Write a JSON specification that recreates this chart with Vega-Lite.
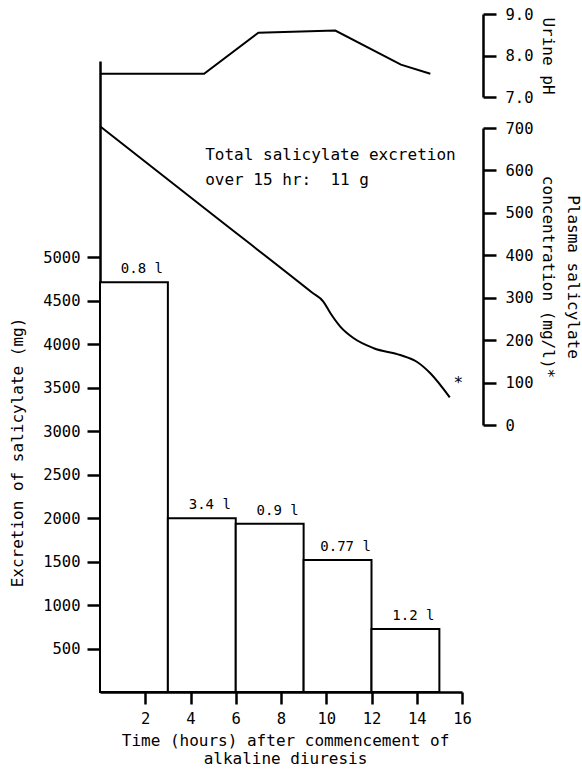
{
  "$schema": "https://vega.github.io/schema/vega-lite/v6.json",
  "width": 362,
  "height": 678,
  "autosize": {"type": "none"},
  "padding": {"left": 100, "top": 14, "right": 120, "bottom": 87},
  "background": "white",
  "config": {
    "font": "DejaVu Sans Mono",
    "view": {"stroke": null},
    "axis": {
      "domainColor": "black", "domainWidth": 2.5,
      "tickColor": "black", "tickWidth": 2.5, "tickSize": 13,
      "labelColor": "black", "titleColor": "black",
      "labelFont": "DejaVu Sans Mono", "titleFont": "DejaVu Sans Mono",
      "labelFontSize": 15.5, "titleFontSize": 16, "titleFontWeight": "normal",
      "grid": false, "labelFlush": false, "labelOverlap": false
    }
  },
  "datasets": {
    "bars": [
      {"start": 0, "end": 3, "mid": 1.5, "mg": 4715, "volume": "0.8 l"},
      {"start": 3, "end": 6, "mid": 4.5, "mg": 2000, "volume": "3.4 l"},
      {"start": 6, "end": 9, "mid": 7.5, "mg": 1935, "volume": "0.9 l"},
      {"start": 9, "end": 12, "mid": 10.5, "mg": 1520, "volume": "0.77 l"},
      {"start": 12, "end": 15, "mid": 13.5, "mg": 725, "volume": "1.2 l"}
    ],
    "plasma": [
      {"hour": 0, "conc": 704},
      {"hour": 5.0, "conc": 495},
      {"hour": 9.4, "conc": 311},
      {"hour": 9.87, "conc": 291},
      {"hour": 10.18, "conc": 264},
      {"hour": 10.62, "conc": 232},
      {"hour": 11.2, "conc": 205},
      {"hour": 12.1, "conc": 181},
      {"hour": 13.27, "conc": 165},
      {"hour": 14.0, "conc": 149},
      {"hour": 14.6, "conc": 122},
      {"hour": 15.46, "conc": 65}
    ],
    "ph": [
      {"hour": 0, "ph": 7.56},
      {"hour": 4.6, "ph": 7.56},
      {"hour": 7.0, "ph": 8.55},
      {"hour": 10.4, "ph": 8.6},
      {"hour": 13.3, "ph": 7.78},
      {"hour": 14.6, "ph": 7.56}
    ]
  },
  "layer": [
    {
      "data": {"name": "bars"},
      "layer": [
        {
          "mark": {"type": "bar", "fill": "white", "stroke": "black", "strokeWidth": 2},
          "encoding": {
            "x": {
              "field": "start", "type": "quantitative",
              "scale": {"domain": [0, 16], "nice": false, "zero": false},
              "axis": {
                "values": [2, 4, 6, 8, 10, 12, 14, 16],
                "tickSize": 12, "labelPadding": 7,
                "title": ["Time (hours) after commencement of", "alkaline diuresis"],
                "titleX": 185, "titleY": 48, "titleBaseline": "middle", "titleLineHeight": 18.5,
                "titleAlign": "center"
              }
            },
            "x2": {"field": "end"},
            "y": {
              "field": "mg", "type": "quantitative",
              "scale": {"domain": [0, 7260], "range": [678, 47], "nice": false},
              "axis": {
                "orient": "left",
                "values": [500, 1000, 1500, 2000, 2500, 3000, 3500, 4000, 4500, 5000],
                "format": "d",
                "labelPadding": 7,
                "title": "Excretion of salicylate (mg)",
                "titleX": -83, "titleY": 438, "titleAngle": -90,
                "titleBaseline": "middle", "titleAlign": "center"
              }
            },
            "y2": {"datum": 0}
          }
        },
        {
          "mark": {"type": "text", "baseline": "bottom", "dy": -6, "dx": 8, "fontSize": 14, "color": "black"},
          "encoding": {
            "x": {"field": "mid", "type": "quantitative", "scale": {"domain": [0, 16], "nice": false, "zero": false}},
            "y": {"field": "mg", "type": "quantitative"},
            "text": {"field": "volume"}
          }
        }
      ]
    },
    {
      "data": {"name": "plasma"},
      "layer": [
        {
          "mark": {"type": "line", "interpolate": "monotone", "color": "black", "strokeWidth": 2},
          "encoding": {
            "x": {"field": "hour", "type": "quantitative", "scale": {"domain": [0, 16], "nice": false, "zero": false}},
            "y": {
              "field": "conc", "type": "quantitative",
              "scale": {"domain": [0, 700], "range": [411, 114], "nice": false},
              "axis": {
                "orient": "right", "offset": 21,
                "values": [0, 100, 200, 300, 400, 500, 600, 700],
                "labelPadding": 9,
                "title": ["Plasma salicylate", "concentration (mg/l)*"],
                "titleX": 89, "titleY": 262.5, "titleAngle": 90,
                "titleBaseline": "middle", "titleAlign": "center", "titleLineHeight": 25
              }
            }
          }
        },
        {
          "data": {"values": [{}]},
          "mark": {
            "type": "text", "align": "left", "baseline": "middle", "fontSize": 16,
            "lineHeight": 25, "color": "black",
            "text": ["Total salicylate excretion", "over 15 hr: \u00a011 g"]
          },
          "encoding": {
            "x": {"datum": 4.65, "type": "quantitative"},
            "y": {"datum": 637, "type": "quantitative"}
          }
        },
        {
          "data": {"values": [{}]},
          "mark": {"type": "text", "align": "center", "baseline": "middle", "fontSize": 16, "color": "black", "text": "*"},
          "encoding": {
            "x": {"datum": 15.84, "type": "quantitative"},
            "y": {"datum": 99, "type": "quantitative"}
          }
        }
      ]
    },
    {
      "data": {"name": "ph"},
      "mark": {"type": "line", "color": "black", "strokeWidth": 2},
      "encoding": {
        "x": {"field": "hour", "type": "quantitative", "scale": {"domain": [0, 16], "nice": false, "zero": false}},
        "y": {
          "field": "ph", "type": "quantitative",
          "scale": {"domain": [7, 9], "range": [83, 0], "nice": false, "zero": false},
          "axis": {
            "orient": "right", "offset": 21,
            "values": [7, 8, 9], "format": ".1f",
            "labelPadding": 9,
            "title": "Urine pH",
            "titleX": 64, "titleY": 41.5, "titleAngle": 90,
            "titleBaseline": "middle", "titleAlign": "center"
          }
        }
      }
    }
  ],
  "resolve": {"scale": {"y": "independent"}, "axis": {"y": "independent"}}
}
